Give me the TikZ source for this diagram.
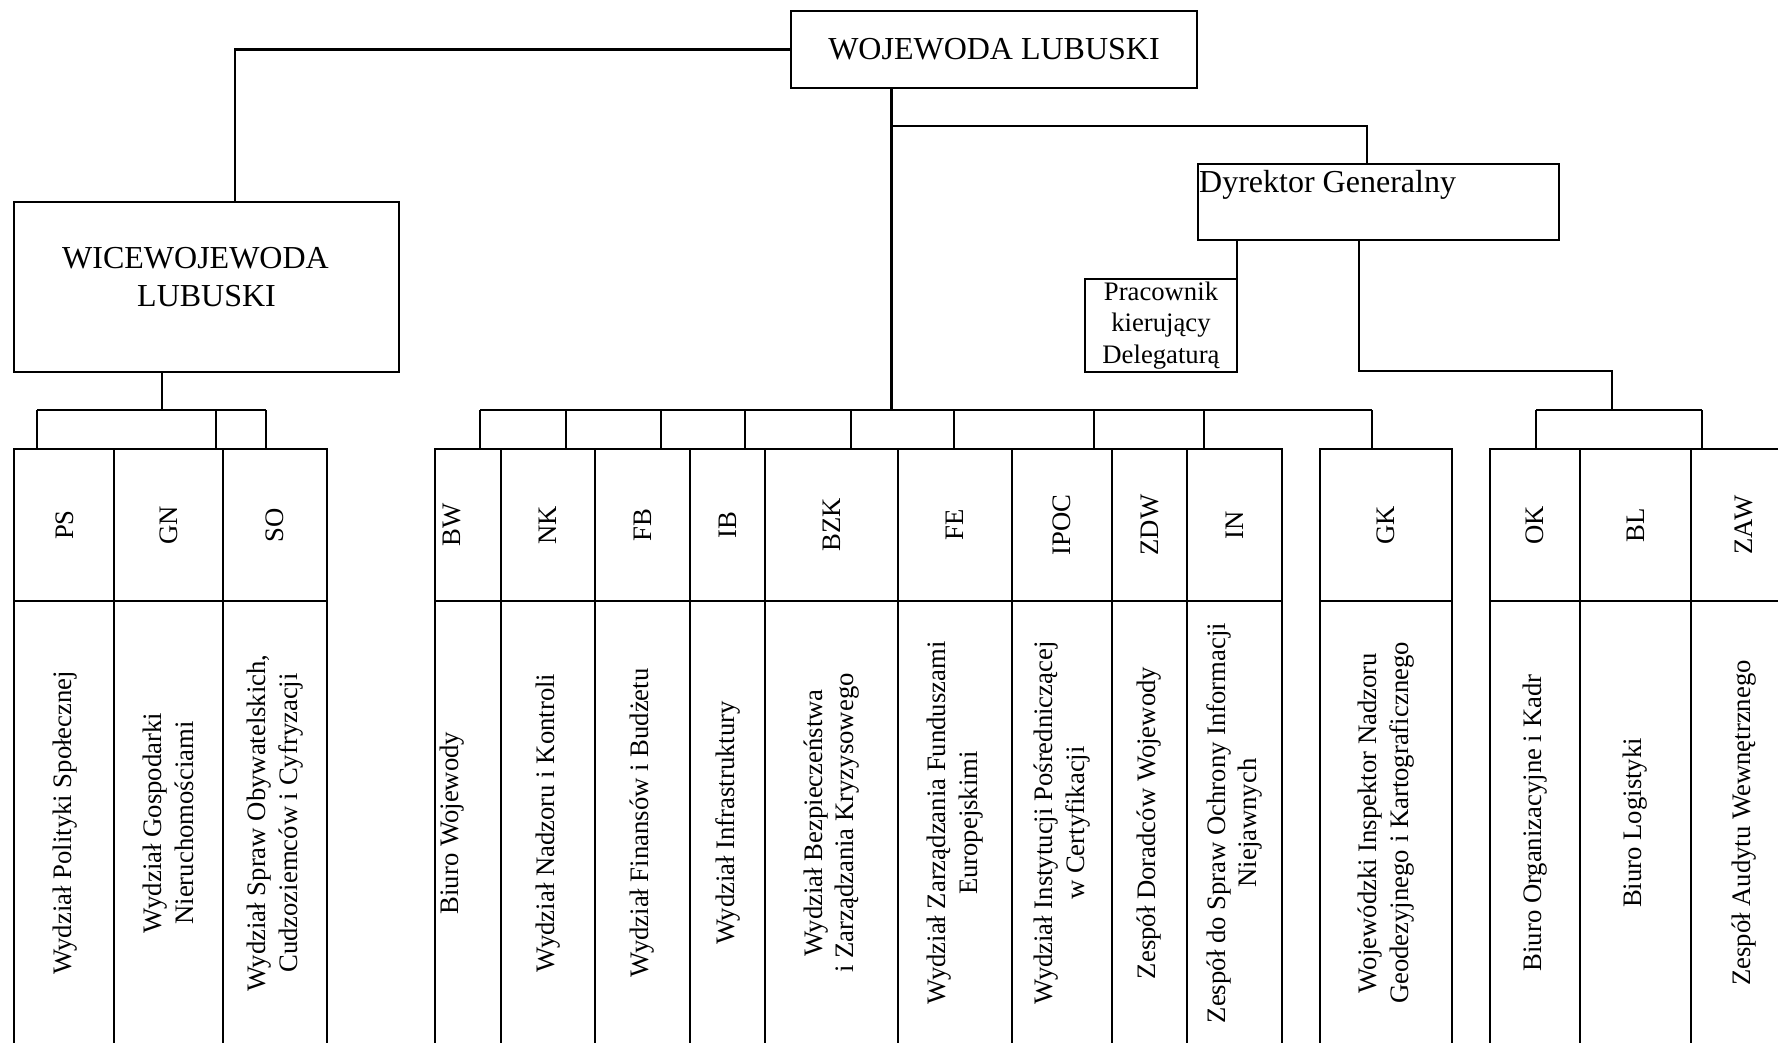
\documentclass[tikz,border=0pt]{standalone}
\usepackage{fontspec}
\setmainfont{Liberation Serif}
\newcommand{\bigfnt}{\fontsize{32}{37}\selectfont}
\newcommand{\smfnt}{\fontsize{26.7}{31.5}\selectfont}
\tikzset{
  ln/.style={line width=2.2pt},
  cell/.style={draw, line width=2.2pt, inner sep=0pt, outer sep=0pt, anchor=north west},
  abbrtxt/.style={rotate=90, inner sep=0pt, font=\smfnt},
  fulltxt/.style={rotate=90, inner sep=0pt, align=center, font=\smfnt},
  plaintxt/.style={inner sep=0pt, font=\bigfnt},
}
\newcommand{\unitcol}[6]{%
  \node[cell, minimum width={#3-#2}, minimum height=152] (#1top) at (#2,449) {};
  \node[cell, minimum width={#3-#2}, minimum height=460] (#1bot) at (#2,601) {};
  \node[abbrtxt] (#1abbr) at (#6,525) {#4};
  \node[fulltxt] (#1name) at (#6,823) {#5};
}
\begin{document}
\begin{tikzpicture}[x=1pt, y=-1pt]
\useasboundingbox (0,0) rectangle (1778,1043);
\fill[white] (0,0) rectangle (1778,1043);
\clip (0,0) rectangle (1778,1043);

% top level boxes
\node[cell, minimum width=406, minimum height=77, font=\bigfnt] (woj) at (791,11) {WOJEWODA LUBUSKI};
\node[cell, minimum width=385, minimum height=170] (wice) at (13.8,202) {};
\node[plaintxt, anchor=base west] (wice1) at (62,269) {WICEWOJEWODA};
\node[plaintxt, anchor=base west] (wice2) at (137,306) {LUBUSKI};
\node[cell, minimum width=361, minimum height=76] (dg) at (1198,164) {};
\node[plaintxt, anchor=base west] (dgt) at (1199,193) {Dyrektor Generalny};
\node[cell, minimum width=152, minimum height=93, font=\smfnt, align=center] (prac) at (1085,279) {Pracownik\\kierujący\\Delegaturą};

% columns
\unitcol{PS}{13.8}{114}{PS}{Wydział Polityki Społecznej}{65}
\unitcol{GN}{114}{222.7}{GN}{Wydział Gospodarki\\Nieruchomościami}{168.4}
\unitcol{SO}{222.7}{327}{SO}{Wydział Spraw Obywatelskich,\\Cudzoziemców i Cyfryzacji}{275}
\unitcol{BW}{435}{501}{BW}{Biuro Wojewody}{452}
\unitcol{NK}{501}{595}{NK}{Wydział Nadzoru i Kontroli}{548}
\unitcol{FB}{595}{690}{FB}{Wydział Finansów i Budżetu}{642.5}
\unitcol{IB}{690}{765}{IB}{Wydział Infrastruktury}{727.5}
\unitcol{BZK}{765}{898}{BZK}{Wydział Bezpieczeństwa\\i Zarządzania Kryzysowego}{831.5}
\unitcol{FE}{898}{1012}{FE}{Wydział Zarządzania Funduszami\\Europejskimi}{955}
\unitcol{IPOC}{1012}{1112}{IPOC}{Wydział Instytucji Pośredniczącej\\w Certyfikacji}{1062}
\unitcol{ZDW}{1112}{1187}{ZDW}{Zespół Doradców Wojewody}{1149.5}
\unitcol{IN}{1187}{1282}{IN}{Zespół do Spraw Ochrony Informacji\\Niejawnych}{1234.5}
\unitcol{GK}{1320}{1452}{GK}{Wojewódzki Inspektor Nadzoru\\Geodezyjnego i Kartograficznego}{1386}
\unitcol{OK}{1490}{1580}{OK}{Biuro Organizacyjne i Kadr}{1535}
\unitcol{BL}{1580}{1691}{BL}{Biuro Logistyki}{1635.5}
\unitcol{ZAW}{1691}{1797}{ZAW}{Zespół Audytu Wewnętrznego}{1744}

% connectors: wojewoda -> wicewojewoda
\coordinate (wj) at (235,49.5);
\draw[ln] (woj.west) -- (wj) -- (wj |- wice.north);
\coordinate (lb) at (162,410);
\draw[ln] (wice.south -| lb) -- (lb);
\coordinate (ld1) at (37,410);
\coordinate (ld2) at (216,410);
\coordinate (ld3) at (266,410);
\draw[ln] (ld1) -- (ld3);
\draw[ln] (ld1) -- (ld1 |- PStop.north);
\draw[ln] (ld2) -- (ld2 |- GNtop.north);
\draw[ln] (ld3) -- (ld3 |- SOtop.north);

% main stem and middle bus
\coordinate (ms) at (891.5,410);
\draw[ln] (woj.south -| ms) -- (ms);
\coordinate (md1) at (480,410);
\coordinate (md2) at (566,410);
\coordinate (md3) at (661,410);
\coordinate (md4) at (745,410);
\coordinate (md5) at (851,410);
\coordinate (md6) at (954,410);
\coordinate (md7) at (1094,410);
\coordinate (md8) at (1204,410);
\coordinate (md9) at (1372,410);
\draw[ln] (md1) -- (md9);
\draw[ln] (md1) -- (md1 |- BWtop.north);
\draw[ln] (md2) -- (md2 |- NKtop.north);
\draw[ln] (md3) -- (md3 |- FBtop.north);
\draw[ln] (md4) -- (md4 |- IBtop.north);
\draw[ln] (md5) -- (md5 |- BZKtop.north);
\draw[ln] (md6) -- (md6 |- FEtop.north);
\draw[ln] (md7) -- (md7 |- IPOCtop.north);
\draw[ln] (md8) -- (md8 |- INtop.north);
\draw[ln] (md9) -- (md9 |- GKtop.north);

% dyrektor generalny
\coordinate (dgj) at (891.5,126);
\coordinate (dgd) at (1367,126);
\draw[ln] (dgj) -- (dgd) -- (dgd |- dg.north);
\draw[ln] (dg.south -| prac.north east) -- (prac.north east);
\coordinate (r1) at (1359,371);
\coordinate (r2) at (1612,371);
\coordinate (rb) at (1612,410);
\draw[ln] (dg.south -| r1) -- (r1) -- (r2) -- (rb);
\coordinate (rd1) at (1536,410);
\coordinate (rd2) at (1701.7,410);
\draw[ln] (rd1) -- (rd2);
\draw[ln] (rd1) -- (rd1 |- OKtop.north);
\draw[ln] (rd2) -- (rd2 |- ZAWtop.north);
\end{tikzpicture}
\end{document}
